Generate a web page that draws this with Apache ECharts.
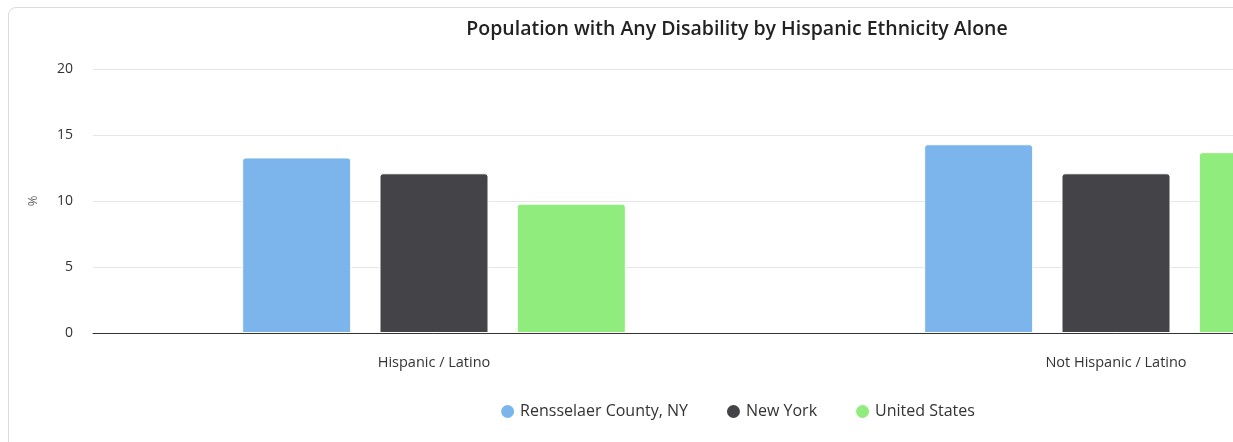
<!DOCTYPE html>
<html><head><meta charset="utf-8">
<script src="https://cdn.jsdelivr.net/npm/echarts@6/dist/echarts.min.js"></script>
<style>
html,body{margin:0;padding:0;background:#fff;overflow:hidden;width:1233px;height:442px;}
#box{position:absolute;left:8px;top:7px;width:1458px;height:445px;border:1px solid #dcdcdc;border-radius:8px;box-sizing:border-box;}
#chart{position:absolute;left:0;top:0;width:1456px;height:443px;}
</style></head>
<body>
<div id="box"><div id="chart"></div></div>
<script>
const titleText = 'Population with Any Disability by Hispanic Ethnicity Alone';
const categories = ['Hispanic / Latino', 'Not Hispanic / Latino'];
const seriesNames = ['Rensselaer County, NY', 'New York', 'United States'];
const rensselaer = [13.3, 14.3];
const newYork = [12.1, 12.1];
const unitedStates = [9.8, 13.7];
const yTicks = [0, 5, 10, 15, 20];
const colors = ['#7cb5ec', '#434348', '#90ed7d'];
const FONT = '"Open Sans", sans-serif';

const chart = echarts.init(document.getElementById('chart'), null, {renderer: 'canvas'});
const values = [rensselaer, newYork, unitedStates];
chart.setOption({
  animation: false,
  textStyle: {fontFamily: FONT},
  title: {
    text: titleText, left: 'center', top: 6,
    textStyle: {fontFamily: FONT, fontSize: 19.5, fontWeight: 600, color: '#222'}
  },
  legend: {
    bottom: 26, left: 'center', itemGap: 37,
    icon: 'circle', itemWidth: 15, itemHeight: 15,
    textStyle: {fontFamily: FONT, fontSize: 16, color: '#333'},
    data: seriesNames
  },
  grid: {left: 84, right: 8, top: 61, bottom: 118, containLabel: false},
  xAxis: {
    type: 'category', data: categories,
    axisLine: {lineStyle: {color: '#333', width: 1}},
    axisTick: {show: false},
    axisLabel: {fontFamily: FONT, fontSize: 14.5, color: '#333', margin: 22}
  },
  yAxis: {
    type: 'value', min: yTicks[0], max: yTicks[yTicks.length - 1], interval: 5,
    name: '%', nameLocation: 'middle', nameGap: 53, nameRotate: 90,
    nameTextStyle: {fontFamily: FONT, fontSize: 13, color: '#666'},
    axisLabel: {fontFamily: FONT, fontSize: 14, color: '#333', margin: 20},
    splitLine: {lineStyle: {color: '#e6e6e6'}},
    axisLine: {show: false}, axisTick: {show: false}
  },
  series: seriesNames.map((n, i) => ({
    name: n, type: 'bar', data: values[i],
    barWidth: 109, barGap: '26%',
    itemStyle: {color: colors[i], borderColor: '#fff', borderWidth: 1, borderRadius: [3, 3, 0, 0]}
  }))
});
</script>
</body></html>
